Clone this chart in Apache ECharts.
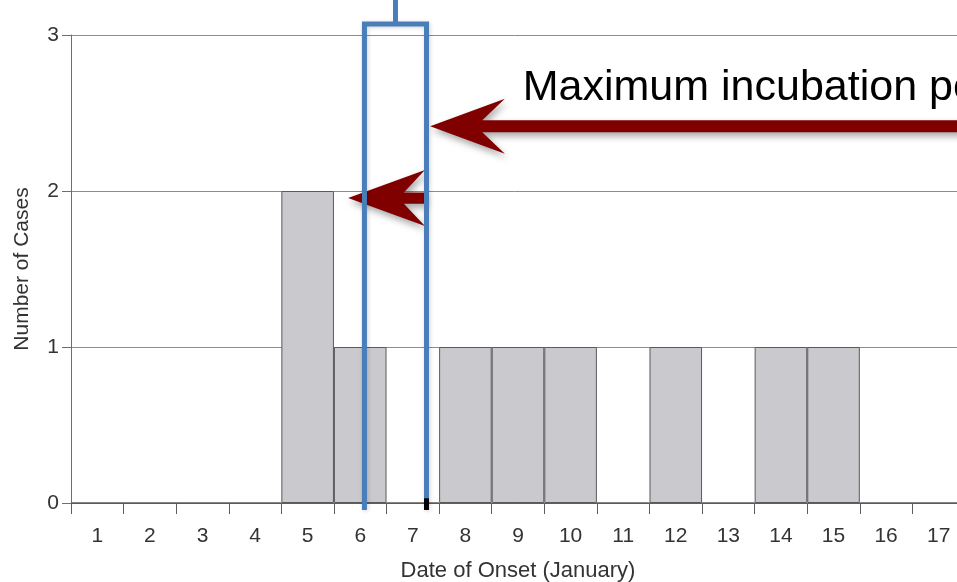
<!DOCTYPE html>
<html>
<head>
<meta charset="utf-8">
<style>
  html, body { margin: 0; padding: 0; background: #ffffff; }
  #chart { width: 957px; height: 582px; }
</style>
<script src="https://cdn.jsdelivr.net/npm/echarts@6/dist/echarts.min.js"></script>
</head>
<body>
<div id="chart"></div>
<script>
// Epidemic curve: cases by date of onset in January
const days = ['1','2','3','4','5','6','7','8','9','10','11','12','13','14','15','16','17'];
const cases = [0, 0, 0, 0, 2, 1, 0, 1, 1, 1, 0, 1, 0, 1, 1, 0, 0];
const yTicks = [0, 1, 2, 3];

// Exposure window bracket (day units on a continuous axis, case units vertically)
const windowStart = 6.08;
const windowEnd = 7.26;
const windowMid = 6.67;
const bracketTop = 3.07;
const bracketStubTop = 3.25;
const bracketBase = -0.045;

// Arrow annotations (tip, back of head, notch, half-heights)
const longArrow = { tipX: 7.33, y: 2.415, backX: 8.75, notchX: 8.32, halfHead: 0.176, halfShaft: 0.039, endX: 19 };
const shortArrow = { tipX: 5.77, y: 1.955, backX: 7.23, notchX: 6.83, halfHead: 0.179, halfShaft: 0.036, endX: 7.23 };
const annotationText = 'Maximum incubation period';
const annotationPos = [9.09, 2.66];

const FONT = '"Liberation Sans", Arial, Helvetica, sans-serif';
const chart = echarts.init(document.getElementById('chart'), null, { renderer: 'canvas' });

const option = {
  animation: false,
  backgroundColor: '#ffffff',
  grid: { left: 71, top: 35, width: 894, height: 468, containLabel: false, outerBoundsMode: 'none' },
  xAxis: [
    {
      type: 'category',
      data: days,
      boundaryGap: true,
      name: 'Date of Onset (January)',
      nameLocation: 'middle',
      nameGap: 57,
      nameTextStyle: { fontSize: 22, color: '#333', fontFamily: FONT },
      axisLine: { show: true, lineStyle: { color: '#5e5e5e', width: 1 } },
      axisTick: { show: true, length: 11, interval: 0, lineStyle: { color: '#5e5e5e' } },
      axisLabel: { interval: 0, fontSize: 21, color: '#333', margin: 23, fontFamily: FONT },
      splitLine: { show: false }
    },
    {
      type: 'value',
      min: 0.5,
      max: 17.5,
      show: false,
      position: 'bottom',
      splitLine: { show: false }
    }
  ],
  yAxis: {
    type: 'value',
    min: yTicks[0],
    max: yTicks[yTicks.length - 1],
    interval: 1,
    name: 'Number of Cases',
    nameLocation: 'middle',
    nameGap: 38,
    nameTextStyle: { fontSize: 21, color: '#333', fontFamily: FONT },
    axisLine: { show: true, lineStyle: { color: '#6e6e6e', width: 1 } },
    axisTick: { show: true, length: 9, lineStyle: { color: '#6e6e6e' } },
    axisLabel: { fontSize: 21, color: '#333', margin: 12, fontFamily: FONT },
    splitLine: { show: true, lineStyle: { color: '#8c8c8c', width: 1 } }
  },
  series: [
    {
      type: 'bar',
      data: cases,
      xAxisIndex: 0,
      barCategoryGap: '0%',
      itemStyle: { color: '#c9c9ce', borderColor: '#5a5a5a', borderWidth: 1 },
      z: 2
    },
    {
      type: 'line',
      xAxisIndex: 1,
      data: [[windowStart, bracketBase], [windowStart, bracketTop], [windowEnd, bracketTop], [windowEnd, bracketBase]],
      symbol: 'none',
      clip: false,
      lineStyle: { color: '#4a7ebb', width: 5, cap: 'butt', join: 'miter',
        shadowBlur: 4, shadowColor: 'rgba(0,0,0,0.18)', shadowOffsetX: 1, shadowOffsetY: 1 },
      z: 5
    },
    {
      type: 'line',
      xAxisIndex: 1,
      data: [[windowMid, bracketTop], [windowMid, bracketStubTop]],
      symbol: 'none',
      clip: false,
      lineStyle: { color: '#4a7ebb', width: 5, cap: 'butt' },
      z: 5
    },
    {
      type: 'line',
      xAxisIndex: 1,
      data: [[windowEnd, 0.03], [windowEnd, bracketBase]],
      symbol: 'none',
      clip: false,
      lineStyle: { color: '#000000', width: 5, cap: 'butt' },
      z: 6
    }
  ]
};

chart.setOption(option);

// Convert annotation geometry from data space to pixels
function px(x, y) {
  return chart.convertToPixel({ seriesIndex: 1 }, [x, y]);
}

function arrowPoints(a) {
  return [
    px(a.tipX, a.y),
    px(a.backX, a.y + a.halfHead),
    px(a.notchX, a.y + a.halfShaft),
    px(a.endX, a.y + a.halfShaft),
    px(a.endX, a.y - a.halfShaft),
    px(a.notchX, a.y - a.halfShaft),
    px(a.backX, a.y - a.halfHead)
  ];
}

const arrowStyle = {
  fill: '#800000',
  shadowBlur: 7,
  shadowColor: 'rgba(0,0,0,0.35)',
  shadowOffsetX: 2,
  shadowOffsetY: 4
};

const textAt = px(annotationPos[0], annotationPos[1]);

chart.setOption({
  graphic: [
    { type: 'polygon', z: 1, shape: { points: arrowPoints(longArrow) }, style: arrowStyle },
    { type: 'polygon', z: 1, shape: { points: arrowPoints(shortArrow) }, style: arrowStyle },
    {
      type: 'text',
      z: 1,
      x: textAt[0],
      y: textAt[1],
      style: {
        text: annotationText,
        fill: '#000000',
        fontSize: 43,
        fontFamily: FONT,
        align: 'left',
        verticalAlign: 'middle'
      }
    }
  ]
});
</script>
</body>
</html>
